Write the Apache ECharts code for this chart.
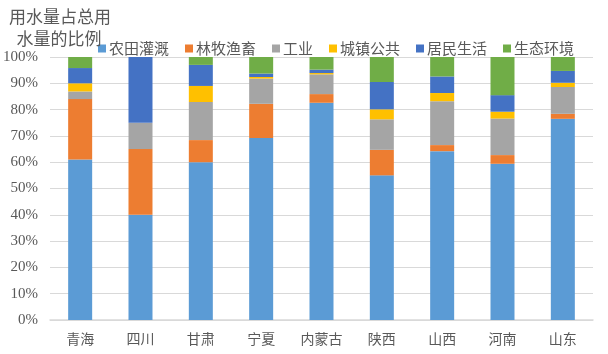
<!DOCTYPE html>
<html>
<head>
<meta charset="utf-8">
<script src="https://cdn.jsdelivr.net/npm/echarts@6/dist/echarts.min.js"></script>
<style>
  html, body { margin: 0; padding: 0; background: #fff; }
  #chart { width: 608px; height: 354px; }
</style>
</head>
<body>
<div id="chart"></div>
<script>
// 省份
const provinces = ['青海', '四川', '甘肃', '宁夏', '内蒙古', '陕西', '山西', '河南', '山东']

// 各用水类型占比（%）
const farmland = [61, 40, 60, 69.2, 82.6, 55, 64.2, 59.4, 76.5]
const forestry = [23, 25, 8.4, 13, 3.3, 9.7, 2.3, 3.3, 1.9]
const industry = [2.9, 10, 14.5, 9.6, 7.5, 11.6, 16.7, 13.9, 10.2]
const urban = [3.1, 0, 6.1, 0.6, 0.5, 3.8, 3.1, 2.6, 1.6]
const residents = [5.8, 25, 8, 1.3, 1.3, 10.4, 6.3, 6.3, 4.5]
const ecology = [4.2, 0, 3, 6.3, 4.8, 9.5, 7.4, 14.5, 5.3]

const seriesNames = ['农田灌溉', '林牧渔畜', '工业', '城镇公共', '居民生活', '生态环境']
const seriesData = [farmland, forestry, industry, urban, residents, ecology]
const colors = ['#5B9BD5', '#ED7D31', '#A5A5A5', '#FFC000', '#4472C4', '#70AD47']

const chart = echarts.init(document.getElementById('chart'))

chart.setOption({
  animation: false,
  color: colors,
  title: {
    text: '用水量占总用\n  水量的比例',
    left: 4,
    top: 1,
    textStyle: {
      fontSize: 17,
      fontWeight: 'normal',
      color: '#595959',
      lineHeight: 22,
      fontFamily: 'Noto Sans CJK SC'
    }
  },
  legend: {
    top: 36,
    left: 93,
    itemWidth: 8,
    itemHeight: 8,
    itemGap: 16,
    icon: 'rect',
    textStyle: { fontSize: 15, color: '#595959', fontFamily: 'Noto Sans CJK SC', padding: [0, 0, 0, -2] },
    data: seriesNames
  },
  grid: { left: 48, right: 15, top: 57, bottom: 34 },
  xAxis: {
    type: 'category',
    data: provinces,
    axisTick: { show: false },
    axisLine: { lineStyle: { color: '#d9d9d9', width: 1.5 } },
    axisLabel: { fontSize: 14, color: '#595959', margin: 12, fontFamily: 'Noto Sans CJK SC' }
  },
  yAxis: {
    type: 'value',
    min: 0,
    max: 100,
    interval: 10,
    axisLabel: {
      formatter: '{value}%',
      fontSize: 15,
      color: '#595959',
      margin: 12,
      fontFamily: 'Times New Roman'
    },
    splitLine: { lineStyle: { color: '#d9d9d9' } }
  },
  series: seriesNames.map((name, i) => ({
    name,
    type: 'bar',
    stack: 'total',
    barWidth: 24,
    data: seriesData[i]
  }))
})
</script>
</body>
</html>
